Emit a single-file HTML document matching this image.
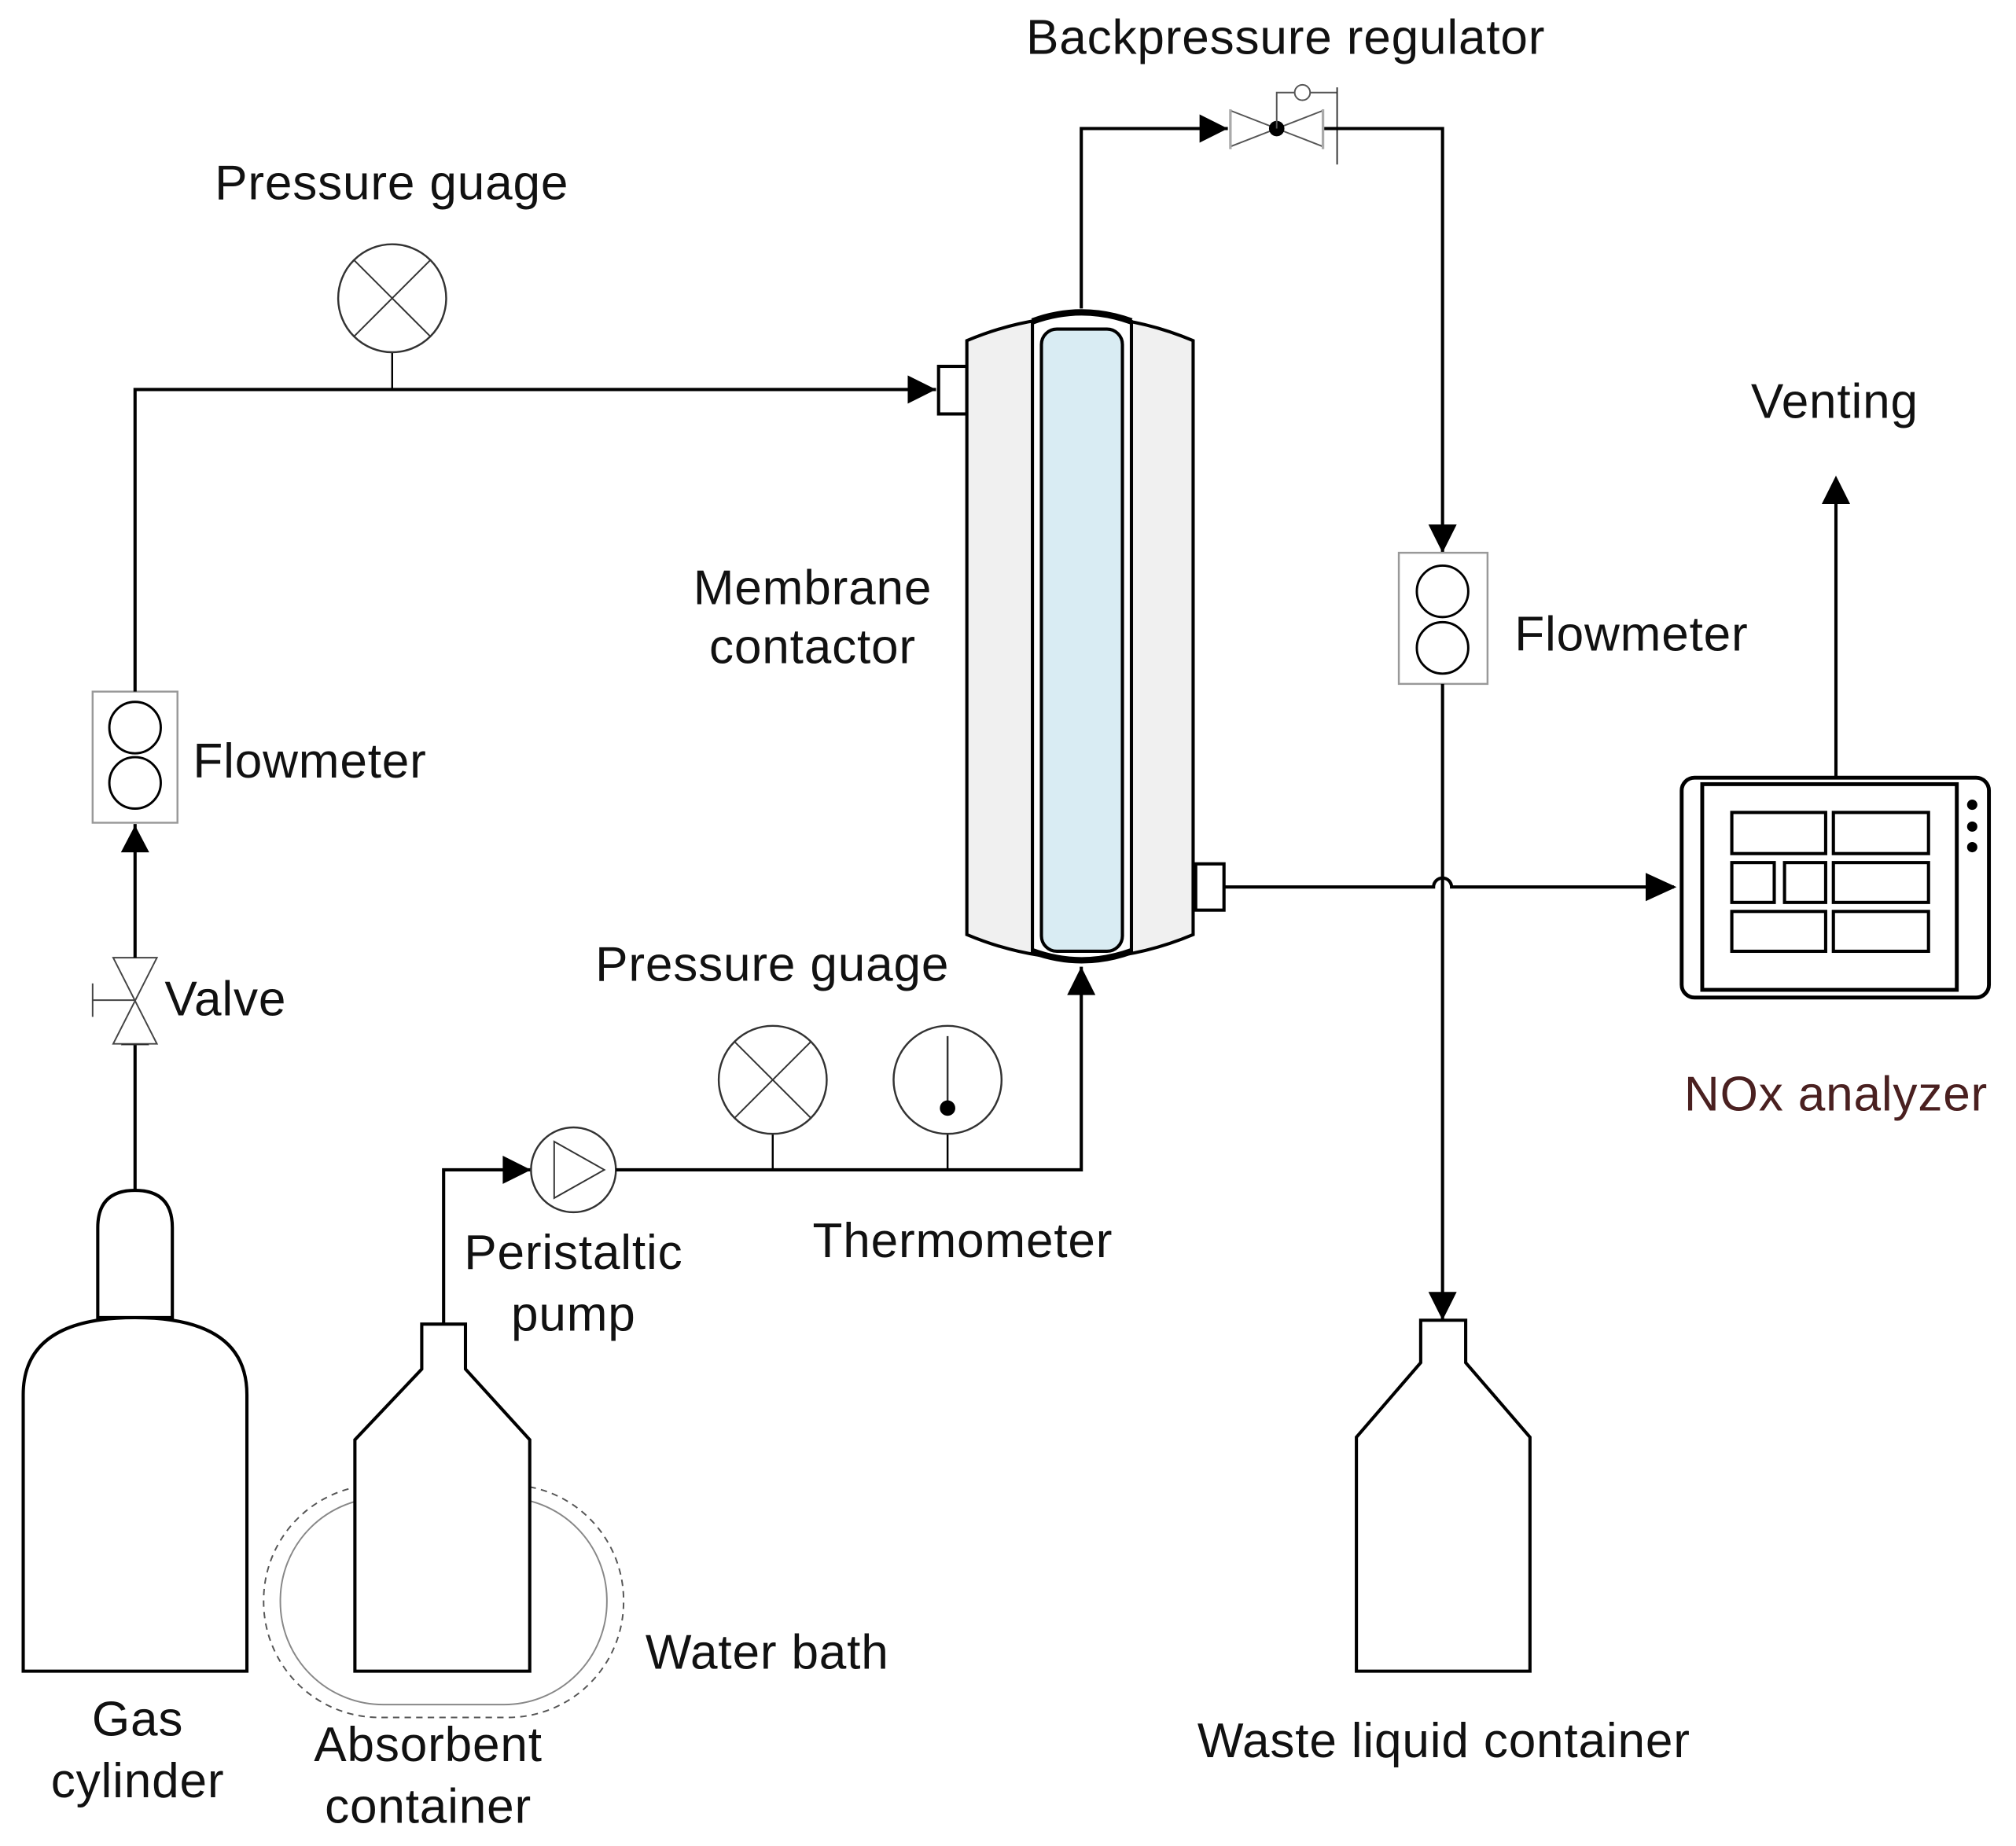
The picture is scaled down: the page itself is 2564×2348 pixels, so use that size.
<!DOCTYPE html>
<html><head><meta charset="utf-8"><style>
html,body{margin:0;padding:0;background:#fff}
svg{display:block}
text{font-family:"Liberation Sans",Arial,sans-serif;font-size:38px;letter-spacing:0.5px;fill:#111}
</style></head><body>
<svg width="2564" height="2348" viewBox="0 0 1568 1436" xmlns="http://www.w3.org/2000/svg">
<g fill="none" stroke="#000" stroke-width="2.5">
<!-- gas cylinder -->
<path d="M18,1300 L18,1085 Q18,1025 105,1025 Q192,1025 192,1085 L192,1300 Z" fill="#fff"/>
<path d="M76,1025 L76,955 Q76,926 105,926 Q134,926 134,955 L134,1025 Z" fill="#fff"/>
<line x1="105" y1="926" x2="105" y2="813"/>
<path d="M94,813 L116,813 L105,800 Z" fill="#000" stroke="none"/>
<!-- valve -->
<path d="M88,745 L122,745 L88,812 L122,812 Z" stroke="#444" stroke-width="1.2" fill="#fff"/>
<line x1="72" y1="778" x2="105" y2="778" stroke="#444" stroke-width="1.2"/>
<line x1="72" y1="765" x2="72" y2="791" stroke="#444" stroke-width="1.2"/>
<line x1="105" y1="745" x2="105" y2="641"/>
<path d="M94,663 L116,663 L105,642 Z" fill="#000" stroke="none"/>
<!-- flowmeter left -->
<rect x="72" y="538" width="66" height="102" stroke="#999" stroke-width="1.5"/>
<circle cx="105" cy="566" r="20" stroke-width="1.8"/>
<circle cx="105" cy="609" r="20" stroke-width="1.8"/>
<polyline points="105,538 105,303 728,303"/>
<path d="M706,292 L728,303 L706,314 Z" fill="#000" stroke="none"/>
<line x1="305" y1="274" x2="305" y2="303" stroke-width="1.5"/>
<circle cx="305" cy="232" r="42" stroke="#333" stroke-width="1.5"/>
<line x1="275" y1="202" x2="335" y2="262" stroke="#333" stroke-width="1.2"/>
<line x1="335" y1="202" x2="275" y2="262" stroke="#333" stroke-width="1.2"/>
<rect x="730" y="285" width="22" height="37" fill="#fff"/>
<!-- membrane contactor -->
<path d="M752,265 Q840,228 928,265 L928,727 Q840,764 752,727 Z" fill="#f0f0f0"/>
<path d="M803,250 Q841,236 880,250 L880,740 Q841,754 803,740 Z" fill="#fff"/>
<path d="M803,250 Q841,236 880,250 M803,740 Q841,754 880,740" stroke-width="5"/>
<rect x="810" y="256" width="63" height="484" rx="12" fill="#d9ecf3"/>
<rect x="930" y="672" width="22" height="36" fill="#fff"/>
<!-- top line to BPR -->
<polyline points="841,240 841,100 955,100"/>
<path d="M933,89 L955,100 L933,111 Z" fill="#000" stroke="none"/>
<path d="M957,86 L993,100 L957,114 Z M1029,86 L993,100 L1029,114 Z" stroke="#555" stroke-width="1.2" fill="#fff"/>
<line x1="957" y1="85" x2="957" y2="116" stroke="#aaa" stroke-width="2"/>
<line x1="1029" y1="85" x2="1029" y2="116" stroke="#aaa" stroke-width="2"/>
<circle cx="993" cy="100" r="6" fill="#000" stroke="none"/>
<polyline points="993,100 993,72 1040,72" stroke="#555" stroke-width="1.2"/>
<circle cx="1013" cy="72" r="6" fill="#fff" stroke="#555" stroke-width="1.2"/>
<line x1="1040" y1="68" x2="1040" y2="128" stroke="#333" stroke-width="1.2"/>
<polyline points="1030,100 1122,100 1122,430"/>
<path d="M1111,408 L1133,408 L1122,430 Z" fill="#000" stroke="none"/>
<!-- flowmeter right -->
<rect x="1088" y="430" width="69" height="102" stroke="#999" stroke-width="1.5"/>
<circle cx="1122" cy="460" r="20" stroke-width="1.8"/>
<circle cx="1122" cy="504" r="20" stroke-width="1.8"/>
<line x1="1122" y1="532" x2="1122" y2="1027"/>
<path d="M1111,1005 L1133,1005 L1122,1027 Z" fill="#000" stroke="none"/>
<!-- waste container -->
<path d="M1105,1027 L1140,1027 L1140,1060 L1190,1118 L1190,1300 L1055,1300 L1055,1118 L1105,1060 Z" fill="#fff"/>
<!-- line to analyzer with hop -->
<path d="M952,690 L1115,690 A7,7 0 0 1 1129,690 L1302,690"/>
<path d="M1280,679 L1304,690 L1280,701 Z" fill="#000" stroke="none"/>
<!-- analyzer -->
<rect x="1308" y="605" width="239" height="171" rx="10" stroke-width="3"/>
<rect x="1324" y="610" width="198" height="160" stroke-width="3"/>
<g stroke-width="2.5">
<rect x="1347" y="632" width="73" height="32"/><rect x="1426" y="632" width="74" height="32"/>
<rect x="1347" y="671" width="33" height="31"/><rect x="1388" y="671" width="32" height="31"/><rect x="1426" y="671" width="74" height="31"/>
<rect x="1347" y="709" width="73" height="31"/><rect x="1426" y="709" width="74" height="31"/>
</g>
<circle cx="1534" cy="626" r="4" fill="#000" stroke="none"/>
<circle cx="1534" cy="643" r="4" fill="#000" stroke="none"/>
<circle cx="1534" cy="659" r="4" fill="#000" stroke="none"/>
<line x1="1428" y1="605" x2="1428" y2="390"/>
<path d="M1417,392 L1439,392 L1428,370 Z" fill="#000" stroke="none"/>
<!-- pump line -->
<polyline points="345,1030 345,910 413,910"/>
<path d="M391,899 L413,910 L391,921 Z" fill="#000" stroke="none"/>
<circle cx="446" cy="910" r="33" stroke="#333" stroke-width="1.5" fill="#fff"/>
<path d="M431,888 L470,910 L431,932 Z" stroke="#333" stroke-width="1.2"/>
<polyline points="479,910 841,910 841,752"/>
<path d="M830,774 L852,774 L841,752 Z" fill="#000" stroke="none"/>
<line x1="601" y1="882" x2="601" y2="910" stroke-width="1.5"/>
<circle cx="601" cy="840" r="42" stroke="#333" stroke-width="1.5"/>
<line x1="571" y1="810" x2="631" y2="870" stroke="#333" stroke-width="1.2"/>
<line x1="631" y1="810" x2="571" y2="870" stroke="#333" stroke-width="1.2"/>
<line x1="737" y1="882" x2="737" y2="910" stroke-width="1.5"/>
<circle cx="737" cy="840" r="42" stroke="#333" stroke-width="1.5"/>
<line x1="737" y1="806" x2="737" y2="862" stroke="#333" stroke-width="1.5"/>
<circle cx="737" cy="862" r="6" fill="#000" stroke="none"/>
<!-- water bath -->
<rect x="205" y="1155" width="280" height="181" rx="90" stroke="#555" stroke-width="1.2" stroke-dasharray="5,4"/>
<rect x="218" y="1165" width="254" height="161" rx="80" stroke="#888" stroke-width="1.2"/>
<!-- absorbent container -->
<path d="M328,1030 L362,1030 L362,1065 L412,1120 L412,1300 L276,1300 L276,1120 L328,1065 Z" fill="#fff"/>
</g>
<text x="1000" y="42" text-anchor="middle">Backpressure regulator</text>
<text x="167" y="155">Pressure guage</text>
<text x="632" y="470" text-anchor="middle">Membrane</text>
<text x="632" y="516" text-anchor="middle">contactor</text>
<text x="150" y="605">Flowmeter</text>
<text x="1178" y="506">Flowmeter</text>
<text x="1427" y="325" text-anchor="middle">Venting</text>
<text x="128" y="790">Valve</text>
<text x="463" y="763">Pressure guage</text>
<text x="1428" y="864" text-anchor="middle" style="fill:#4a2020">NOx analyzer</text>
<text x="632" y="978">Thermometer</text>
<text x="446" y="987" text-anchor="middle">Peristaltic</text>
<text x="446" y="1035" text-anchor="middle">pump</text>
<text x="502" y="1298">Water bath</text>
<text x="107" y="1350" text-anchor="middle">Gas</text>
<text x="107" y="1398" text-anchor="middle">cylinder</text>
<text x="333" y="1370" text-anchor="middle">Absorbent</text>
<text x="333" y="1418" text-anchor="middle">container</text>
<text x="1123" y="1367" text-anchor="middle">Waste liquid container</text>
</svg>
</body></html>
